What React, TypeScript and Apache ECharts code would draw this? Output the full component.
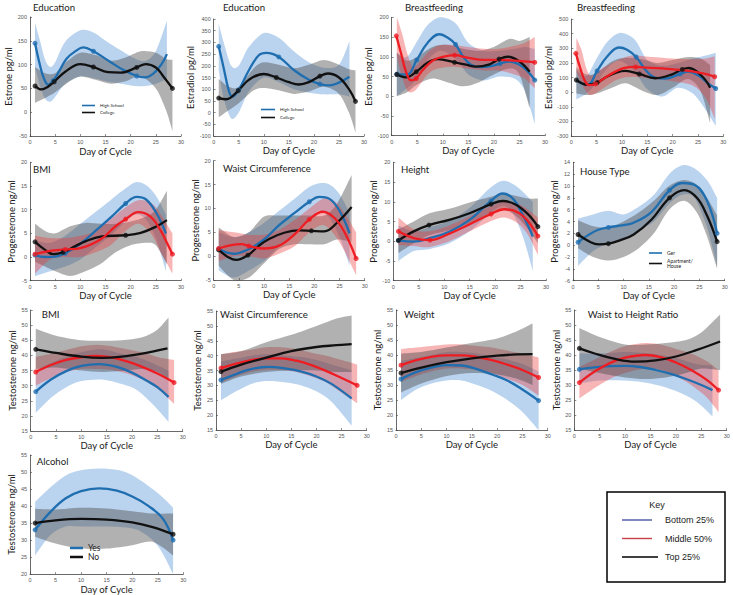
import React, { useEffect, useRef } from 'react';
import * as echarts from 'echarts';

type P = [number, number];
type B = [number, number, number]; // day, low, high

const xName = 'Day of Cycle';
const keyLabels = ['Bottom 25%', 'Middle 50%', 'Top 25%'];
const keyColors = ['#4b55a6', '#c8404c', '#000000'];

// ---------- Panel 1: Education / Estrone ----------
const p1HS: P[] = [[1,145],[2,98],[2.8,70],[3.6,58],[4.6,66],[6,90],[7.3,113],[9,128],[10.6,136],[12.6,128],[15.9,106],[18.5,89],[21.2,76],[22.8,73],[24.5,81],[26.2,102],[27.2,122]];
const p1HSMarks = [1, 4.6, 12.6, 21.2];
const p1HSBand: B[] = [[1,95,188],[2,55,150],[3,28,110],[4,22,95],[5,32,105],[7,60,148],[10,75,172],[12.5,72,168],[15,65,150],[18,60,130],[21,55,112],[23,55,108],[25,60,128],[27.2,70,192]];
const p1Col: P[] = [[1,55],[2.3,48],[3.5,53],[4.8,64],[7,85],[10,101],[12.6,95],[15.5,84],[18,83],[21.2,94],[23,101],[25,94],[26.5,75],[28.3,50]];
const p1ColMarks = [1, 4.8, 12.6, 21.2, 28.3];
const p1ColBand: B[] = [[1,20,95],[3,30,82],[5,42,82],[7.5,62,108],[10,75,125],[13,68,120],[16,60,108],[19,65,115],[22,75,128],[25,50,125],[27,5,112],[28.3,-40,110]];

// ---------- Panel 2: Education / Estradiol ----------
const p2HS: P[] = [[1,283],[2,190],[3,95],[3.7,68],[5,97],[7,180],[9,245],[10.5,255],[13,238],[16,182],[19,140],[21.2,122],[23,116],[25,128],[27.1,153]];
const p2HSMarks = [1, 5, 13, 21.2];
const p2HSBand: B[] = [[1,180,380],[2,60,300],[3.5,-25,200],[5,0,200],[7,90,280],[10,150,340],[13,130,320],[16,100,262],[19,85,215],[22,78,192],[25,78,205],[27.1,68,305]];
const p2Col: P[] = [[1,62],[2.5,57],[4.9,94],[7,140],[10,165],[12.5,150],[15,130],[17,120],[19,130],[21.2,156],[22.8,167],[25,150],[27,100],[28.3,48]];
const p2ColMarks = [1, 4.9, 12.5, 21.2, 28.3];
const p2ColBand: B[] = [[1,-20,145],[3,10,110],[5,40,110],[8,95,190],[10,105,215],[13,95,205],[16,80,190],[19,90,205],[22,110,225],[25,80,205],[27,0,185],[28.3,-85,180]];

// ---------- Panel 3: Breastfeeding / Estrone ----------
const p3Red: P[] = [[0.9,153],[1.8,110],[2.8,62],[3.8,40],[4.8,45],[6,65],[8,90],[10,100],[12.3,104],[15,97],[18,92],[21,92],[24,90],[28,86]];
const p3RedMarks = [0.9, 4.8, 12.3, 28];
const p3RedBand: B[] = [[1,100,200],[2,50,160],[3,15,110],[4,10,75],[5,20,80],[7,55,110],[9,70,128],[12,75,130],[15,70,125],[18,65,120],[21,65,120],[24,55,128],[26,45,135],[28,20,150]];
const p3Blue: P[] = [[1,56],[3,55],[4.9,92],[7,135],[9.3,157],[11,148],[12.5,131],[14,100],[15.5,80],[17.5,74],[20,78],[21.2,83],[23,88],[25,80],[26.5,65],[28,41]];
const p3BlueMarks = [1, 4.9, 12.5, 21.2, 28];
const p3BlueBand: B[] = [[1,0,110],[3,20,100],[5,45,140],[7,90,180],[9.5,115,200],[12.5,95,185],[15,55,135],[18,40,115],[21,50,115],[24,45,120],[26,15,125],[28,-70,120]];
const p3Black: P[] = [[1,55],[2.8,48],[4.8,62],[7,85],[9,94],[12.3,86],[14.5,80],[16.5,75],[19,80],[21,94],[22.7,100],[25,88],[27,62]];
const p3BlackMarks = [1, 4.8, 12.3, 21];
const p3BlackBand: B[] = [[1,0,110],[3,10,90],[5,30,100],[8,45,125],[11,35,130],[14,25,120],[17,35,115],[20,55,125],[23,70,145],[25,55,140],[27,-30,150]];

// ---------- Panel 4: Breastfeeding / Estradiol ----------
const p4Red: P[] = [[0.9,265],[1.8,160],[2.7,75],[3.5,48],[4.8,56],[6.5,95],[8.7,140],[10.5,165],[12.7,172],[15,168],[18,162],[22,150],[26,128],[28.3,105]];
const p4RedMarks = [0.9, 4.8, 12.7, 28.3];
const p4RedBand: B[] = [[1,140,370],[2,60,290],[3,0,160],[4,-20,110],[6,20,160],[9,85,215],[12,105,250],[16,90,240],[20,75,230],[24,45,225],[26.5,-40,230],[28.3,-180,245]];
const p4Blue: P[] = [[1,80],[3.2,50],[5.1,145],[7,240],[9.4,305],[11,290],[12.8,240],[14.7,150],[16.5,100],[18.5,92],[21.5,125],[23,140],[25,115],[27,60],[28.5,25]];
const p4BlueMarks = [5.1, 12.8, 21.5, 28.5];
const p4BlueBand: B[] = [[1,-50,150],[3,-10,110],[5,60,230],[7,160,340],[9.5,215,405],[12.5,140,360],[15,20,220],[18,-30,180],[21,30,200],[24,-10,230],[26.5,-120,250],[28.5,-230,270]];
const p4Black: P[] = [[1,83],[3.2,50],[5.1,65],[7,105],[9,135],[10.7,145],[13.4,124],[16.6,95],[19.9,122],[21.9,155],[23.2,165],[25.9,105],[27.4,30]];
const p4BlackMarks = [1, 5.1, 13.4, 21.9];
const p4BlackBand: B[] = [[1,-10,170],[3,-20,120],[5,-10,130],[8,30,210],[10.7,60,235],[14,10,225],[17,-20,200],[20,30,220],[23,90,240],[25.5,10,230],[27.4,-210,185]];

// ---------- Panel 5: BMI / Progesterone ----------
const p5Blue: P[] = [[1,0.4],[3,0],[5,0.1],[7,0.8],[10,2.8],[13,5.5],[16,8.3],[19,11.3],[21.2,12.7],[23,12.2],[25,9.5],[27,5]];
const p5BlueMarks = [1, 7, 19];
const p5BlueBand: B[] = [[1,-4,3.5],[4,-3,3],[7,-2,4.5],[10,-0.5,7],[13,2,9.5],[16,4.5,12],[19,7.5,14.5],[21,9,15.8],[23,8,15.2],[25,4,13],[27,-3,9]];
const p5Red: P[] = [[1,0.6],[4,1.3],[7,1.6],[10,1.9],[14,3.7],[17,6.5],[19,8],[21.5,9.5],[24,8.5],[26,5.5],[27.2,3],[28.3,0.6]];
const p5RedMarks = [1, 7, 19, 28.3];
const p5RedBand: B[] = [[1,-3.5,4.5],[4,-0.5,4],[7,0,4],[10,0,4.5],[13,1,5.5],[16,2.5,8],[19,5.5,10.5],[21.5,7,12],[24,5,11.5],[26,1,9],[28.3,-3.5,5]];
const p5Black: P[] = [[1,3.2],[3,1.5],[4.6,0.6],[6.6,1],[9,2.3],[11,3.3],[14,4.3],[19,4.6],[22,5.1],[25,6.4],[27.2,7.8]];
const p5BlackMarks = [1, 6.6, 19];
const p5BlackBand: B[] = [[1,-1,7],[3,-2,5.5],[5,-3,5],[8,-4,6.5],[11,-3,7.2],[14,-1.5,7],[17,1,7],[20,2.5,7.5],[23,3,8.5],[25,2.5,10],[27.2,-1.5,14]];

// ---------- Panel 6: Waist Circumference / Progesterone ----------
const p6Blue: P[] = [[1,1.5],[4,0.5],[7,1.5],[10,3.5],[13,6.5],[16,9],[19,11.4],[21,12.4],[23,12],[25,9.5],[27,4.8]];
const p6BlueMarks = [1, 19];
const p6BlueBand: B[] = [[1,-3,5],[4,-4.5,4],[7,-3,5],[10,-1,7],[13,2,9.5],[16,4.5,12],[19,7.5,14.5],[21,9.5,15.3],[23,8,15],[25,4,13],[27,-2,9]];
const p6Red: P[] = [[1,1.6],[3.5,2.3],[5.5,2.5],[7,2.1],[10,1.6],[13,2.2],[16,4.5],[19,7.7],[21.7,9.3],[24,8],[26,5],[28.3,-0.5]];
const p6RedMarks = [1, 7, 19, 28.3];
const p6RedBand: B[] = [[1,-1,5.5],[4,0,5],[7,0,4.5],[10,-0.5,4.5],[13,0.5,5.5],[16,2,7.5],[19,5,10],[21.7,6.5,12],[24,4.5,11.5],[26,1,9],[28.3,-4,5]];
const p6Black: P[] = [[1,1.3],[3,-0.3],[4.5,-0.8],[6.8,0.2],[9,2.2],[11,3.6],[14,4.9],[17,5.4],[19.4,5.3],[22,5.2],[24.5,7],[27.4,10.3]];
const p6BlackMarks = [1, 6.8, 19.4];
const p6BlackBand: B[] = [[1,-2,6],[4,-5,4],[7,-4.5,5],[10,-1.5,8.3],[13,1.5,8.5],[16,2.5,8.5],[19,2.5,8.5],[22,2.5,8.5],[24.5,3.5,11],[27.4,3,17]];

// ---------- Panel 7: Height / Progesterone ----------
const p7Black: P[] = [[1,0.2],[4,2.5],[7,4.1],[11,5.4],[15,7.1],[19.2,9.4],[21.5,10.2],[24,9.3],[26.5,6.8],[28.4,3.7]];
const p7BlackMarks = [1, 7, 19.2, 28.4];
const p7BlackBand: B[] = [[1,-3,3],[4,-0.5,5],[7,1.5,7],[11,2.8,8.2],[15,4.5,9.8],[19,7,11.2],[21.5,8,12],[24,6.5,11.5],[26.5,3,10.8],[28.4,-0.5,10.8]];
const p7Blue: P[] = [[1,0.2],[4,-0.1],[7,0.7],[11,2.4],[15,5.4],[19.2,10.2],[21.5,12.1],[23.5,10.8],[25.5,6.5],[27.4,1.2]];
const p7BlueMarks = [1, 19.2];
const p7BlueBand: B[] = [[1,-5,4],[4,-2.5,2.5],[7,-2,3.5],[11,-0.5,5.2],[15,2.5,8.5],[19,7,13.5],[21.5,9,15.3],[23.5,7,14.5],[25.5,1,12.5],[27.4,-7.5,10]];
const p7Red: P[] = [[1,2.5],[4,0.8],[7.2,0.3],[11,1.9],[15,4.3],[19.2,6.9],[21.8,8.1],[24.5,7.3],[26.5,5],[28.4,1.3]];
const p7RedMarks = [1, 7.2, 19.2, 28.4];
const p7RedBand: B[] = [[1,-1,6],[4,-1.2,3],[7,-1.5,2.5],[11,0,4],[15,2.5,6.3],[19,5,8.8],[21.8,6,10],[24.5,4.5,9.5],[26.5,1.5,8],[28.4,-3.5,6]];

// ---------- Panel 8: House Type / Progesterone ----------
const p8Ger: P[] = [[1,0.5],[3,1.7],[5,2.6],[7,3],[10,3.4],[12,3.8],[15.5,5.6],[19.1,9.3],[21.6,10.5],[24,10.2],[26.5,7.5],[28.5,2]];
const p8GerMarks = [1, 7, 19.1, 28.5];
const p8GerBand: B[] = [[1,-3.5,4.5],[4,-1,5.2],[7,0.3,5.8],[10,1.2,5.2],[13,2.5,6.5],[16,4,8.5],[19,7,12],[21.6,8.5,13.5],[24,8,13],[26.5,3,11],[28.5,-3.5,8]];
const p8Apt: P[] = [[1,1.8],[3.5,0.5],[5.1,0.15],[7,0.25],[9.5,0.9],[12,1.8],[15.5,4.3],[19.1,8],[22,9.3],[24.5,8],[26.5,5],[28.5,0.6]];
const p8AptMarks = [1, 7, 19.1, 28.5];
const p8AptBand: B[] = [[1,-0.5,4.2],[4,-2,3.2],[7,-2.6,3],[10,-2,4],[13,-0.5,5.5],[16,2,7.5],[19,6,10],[22,7.5,11],[24.5,5.5,10.2],[26.5,1.5,8],[28.5,-4,5]];

// ---------- Panel 9: BMI / Testosterone ----------
const p9Black: P[] = [[1,42],[5,40.8],[10,39.6],[14,39.2],[18,39.6],[22,40.6],[27,42.3]];
const p9BlackMarks = [1];
const p9BlackBand: B[] = [[1,35.5,48.8],[5,36,46.5],[10,35,45],[14,34.5,44.8],[18,34.8,45],[22,35.5,46],[25,34.5,48.5],[27.2,32,52.5]];
const p9Red: P[] = [[1,34.5],[4,36.8],[7,38.5],[10,39.4],[13,39.8],[16,39.3],[19,38],[22,36.2],[25,34],[28.3,31]];
const p9RedMarks = [1, 28.3];
const p9RedBand: B[] = [[1,30,39.5],[4,32.5,40.5],[7,34.5,41.8],[10,35.5,43],[13,35.5,43.5],[16,35.2,43],[19,34,42],[22,32,41],[25,29,39.5],[28.3,24,38.5]];
const p9Blue: P[] = [[1,28],[4,32],[7,34.8],[10,36.5],[13.5,37.1],[17,36.2],[20,34.3],[23,31.5],[25,29.5],[27.2,26.3]];
const p9BlueMarks = [1];
const p9BlueBand: B[] = [[1,21,35],[4,26,37.5],[7,29.5,39.5],[10,31.5,41],[14,32,42],[18,30.5,40.5],[21,28.5,39.5],[24,24,37.5],[27.2,18,35]];

// ---------- Panel 10: Waist Circumference / Testosterone ----------
const p10Black: P[] = [[1,34.6],[5,37],[10,39.3],[15,41.5],[20,42.9],[24,43.5],[27,43.9]];
const p10BlackMarks = [1];
const p10BlackBand: B[] = [[1,30.5,40.5],[5,33,41.5],[10,34.5,44.5],[15,35,47],[20,35,50],[24,34.5,52.5],[27,34.5,53.5]];
const p10Red: P[] = [[1,35.8],[4,37.3],[7,38.5],[10,39.1],[13,39.1],[16,38.3],[19,36.8],[22,34.8],[25,32.5],[28.1,30]];
const p10RedMarks = [1, 28.1];
const p10RedBand: B[] = [[1,31,40.5],[4,33,41.3],[7,34.5,42],[10,35.2,42.8],[13,35.2,42.8],[16,34.5,42.2],[19,33,41],[22,31,40],[25,27.5,38.5],[28.1,24,37]];
const p10Blue: P[] = [[1,31.8],[4,33.8],[7,35.5],[10.5,36.2],[14,35.6],[17,34.6],[20,33],[23,30.5],[27,25.6]];
const p10BlueMarks = [1];
const p10BlueBand: B[] = [[1,25,38],[4,28,39],[7,30.5,40],[10,31.5,40.5],[14,31,40],[17,30,39.5],[20,28,38.5],[23,24.5,37],[27,16.5,35]];

// ---------- Panel 11: Weight / Testosterone ----------
const p11Red: P[] = [[1,36.6],[4,38.3],[7,39.4],[10,39.9],[13,39.9],[16,39.3],[19,38.3],[22,36.8],[25,35],[28.2,32.5]];
const p11RedMarks = [1, 28.2];
const p11RedBand: B[] = [[1,31,42],[4,33,42.5],[7,34.5,43],[10,35.5,43.5],[13,35.5,43.5],[16,35,43],[19,34,42.5],[22,32,41.5],[25,30,40.5],[28.2,26.5,39.2]];
const p11Black: P[] = [[1,34],[5,35.8],[10,37.6],[15,38.9],[20,39.8],[24,40.2],[27,40.3]];
const p11BlackMarks = [1];
const p11BlackBand: B[] = [[1,27.5,40.5],[5,30.5,41],[10,33,42.5],[15,34,44],[20,33.5,45.5],[24,32,48],[27,30,50.5]];
const p11Blue: P[] = [[1,32],[4,34.3],[7,35.8],[10,36.6],[13,36.5],[16,35.3],[19,33.5],[22,31.5],[25,28.5],[28.2,24.8]];
const p11BlueMarks = [1, 28.2];
const p11BlueBand: B[] = [[1,25,38],[4,28.5,39],[7,30.5,40],[10,31.5,41],[13,31.5,41],[16,30,40.5],[19,28,39.5],[22,25,38.5],[25,21,37],[28.2,15,34.5]];

// ---------- Panel 12: Waist to Height Ratio / Testosterone ----------
const p12Black: P[] = [[1,42.2],[4,40.5],[8,38.7],[12,37.8],[16,38.2],[20,39.5],[24,41.6],[28.7,44.5]];
const p12BlackMarks = [1];
const p12BlackBand: B[] = [[1,35.5,49],[5,34,46],[10,32.5,43.5],[14,32,43.5],[18,32.5,44],[22,34,45],[25,35.5,47.5],[28.7,35,53.5]];
const p12Red: P[] = [[1,30.8],[4,34.5],[7,37.3],[10,39.1],[14,40],[17,39.3],[20,37.5],[23,35],[26,31.8],[28.4,28.3]];
const p12RedMarks = [1, 28.4];
const p12RedBand: B[] = [[1,25.5,36],[4,29,38.5],[7,32,41],[10,34,43],[14,35.5,44],[17,35,43.5],[20,33,42],[23,30,40.5],[26,26,38],[28.4,21,35]];
const p12Blue: P[] = [[1,35.2],[4,35.9],[7,36.3],[10,36.4],[13,36],[16,35],[19,33.7],[22,32],[25,30],[27.2,28.3]];
const p12BlueMarks = [1];
const p12BlueBand: B[] = [[1,30.5,40.5],[5,31.5,40.5],[10,31.5,41],[15,30.5,40.5],[20,28,39],[24,24.5,37],[27.2,19.5,36.5]];

// ---------- Panel 13: Alcohol / Testosterone ----------
const p13Yes: P[] = [[1,33],[4,38.3],[7,42.3],[10,44.4],[13.5,45.2],[17,44.5],[20,42.8],[23,40.2],[26,36.3],[28,30]];
const p13YesMarks = [1, 28];
const p13YesBand: B[] = [[1,25.5,41.2],[4,31.5,45.5],[7,34,49],[10,34,50.5],[14,34,51],[18,33.8,50.3],[21,33,48.2],[24,30,45],[26,26,42.5],[28,20,39.5]];
const p13No: P[] = [[1,35],[5,35.8],[10,36.2],[15,36],[20,35.2],[24,33.8],[28,31.7]];
const p13NoMarks = [1, 28];
const p13NoBand: B[] = [[1,31,39.2],[5,29,39],[10,27.5,39.5],[15,27.5,39.3],[20,28.5,38.5],[24,29.5,37.8],[28,25.5,37.8]];

// ---------- band shape (smooth upper + lower edges) ----------
function curveThrough(ctx: any, pts: number[][]) {
  const t = 0.9;
  for (let i = 0; i < pts.length - 1; i++) {
    const p0 = pts[i - 1] || pts[i];
    const p1 = pts[i];
    const p2 = pts[i + 1];
    const p3 = pts[i + 2] || p2;
    const c1x = p1[0] + ((p2[0] - p0[0]) / 6) * t;
    const c1y = p1[1] + ((p2[1] - p0[1]) / 6) * t;
    const c2x = p2[0] - ((p3[0] - p1[0]) / 6) * t;
    const c2y = p2[1] - ((p3[1] - p1[1]) / 6) * t;
    ctx.bezierCurveTo(c1x, c1y, c2x, c2y, p2[0], p2[1]);
  }
}
const BandShape = (echarts.graphic as any).extendShape({
  type: 'bandArea',
  shape: { upper: [], lower: [] },
  buildPath(ctx: any, shape: any) {
    const up: number[][] = shape.upper;
    const lo: number[][] = shape.lower;
    if (!up || !up.length) return;
    ctx.moveTo(up[0][0], up[0][1]);
    curveThrough(ctx, up);
    const rlo = lo.slice().reverse();
    ctx.lineTo(rlo[0][0], rlo[0][1]);
    curveThrough(ctx, rlo);
    ctx.closePath();
  },
});
(echarts.graphic as any).registerShape('bandArea', BandShape);

// ---------- layout & styling ----------
const COLORS: Record<string, { line: string; band: string }> = {
  blue: { line: '#1f6eb0', band: 'rgba(90,150,215,0.42)' },
  red: { line: '#ee1c23', band: 'rgba(235,60,60,0.38)' },
  black: { line: '#111111', band: 'rgba(70,70,70,0.42)' },
};
const FONT = 'Lato';

type G = { c: string; name?: string; line: P[]; marks: number[]; band: B[] };
type Panel = { title: string; t: [number, number]; yName: string; y: [number, number, number]; g: [number, number, number, number]; yGap: number; xGap: number; groups: G[] };

const panels: Panel[] = [
  { title: 'Education', t: [33, 2], yName: 'Estrone pg/ml', y: [-50, 200, 50], g: [30, 17, 151, 119], yGap: 14, xGap: 10,
    groups: [{ c: 'blue', name: 'High School', line: p1HS, marks: p1HSMarks, band: p1HSBand }, { c: 'black', name: 'College', line: p1Col, marks: p1ColMarks, band: p1ColBand }] },
  { title: 'Education', t: [223, 2], yName: 'Estradiol pg/ml', y: [-100, 400, 50], g: [213.7, 19, 150.3, 117], yGap: 17, xGap: 5.7,
    groups: [{ c: 'blue', name: 'High School', line: p2HS, marks: p2HSMarks, band: p2HSBand }, { c: 'black', name: 'College', line: p2Col, marks: p2ColMarks, band: p2ColBand }] },
  { title: 'Breastfeeding', t: [405, 2], yName: 'Estrone pg/ml', y: [-100, 200, 50], g: [391.7, 17.3, 153.3, 118.4], yGap: 11, xGap: 8,
    groups: [{ c: 'blue', line: p3Blue, marks: p3BlueMarks, band: p3BlueBand }, { c: 'black', line: p3Black, marks: p3BlackMarks, band: p3BlackBand }, { c: 'red', line: p3Red, marks: p3RedMarks, band: p3RedBand }] },
  { title: 'Breastfeeding', t: [577, 2], yName: 'Estradiol pg/ml', y: [-300, 500, 100], g: [571.3, 19, 152, 117], yGap: 10.5, xGap: 7.7,
    groups: [{ c: 'blue', line: p4Blue, marks: p4BlueMarks, band: p4BlueBand }, { c: 'black', line: p4Black, marks: p4BlackMarks, band: p4BlackBand }, { c: 'red', line: p4Red, marks: p4RedMarks, band: p4RedBand }] },
  { title: 'BMI', t: [33, 164], yName: 'Progesterone ng/ml', y: [-5, 20, 5], g: [30, 162.3, 151, 118.4], yGap: 13, xGap: 6.3,
    groups: [{ c: 'blue', line: p5Blue, marks: p5BlueMarks, band: p5BlueBand }, { c: 'black', line: p5Black, marks: p5BlackMarks, band: p5BlackBand }, { c: 'red', line: p5Red, marks: p5RedMarks, band: p5RedBand }] },
  { title: 'Waist Circumference', t: [223, 163.5], yName: 'Progesterone ng/ml', y: [-5, 20, 5], g: [213.7, 160.7, 151, 119.3], yGap: 12.5, xGap: 6,
    groups: [{ c: 'blue', line: p6Blue, marks: p6BlueMarks, band: p6BlueBand }, { c: 'black', line: p6Black, marks: p6BlackMarks, band: p6BlackBand }, { c: 'red', line: p6Red, marks: p6RedMarks, band: p6RedBand }] },
  { title: 'Height', t: [401, 164], yName: 'Progesterone ng/ml', y: [-10, 20, 5], g: [393.3, 162.3, 152.7, 118.4], yGap: 13, xGap: 6,
    groups: [{ c: 'blue', line: p7Blue, marks: p7BlueMarks, band: p7BlueBand }, { c: 'black', line: p7Black, marks: p7BlackMarks, band: p7BlackBand }, { c: 'red', line: p7Red, marks: p7RedMarks, band: p7RedBand }] },
  { title: 'House Type', t: [580, 166], yName: 'Progesterone ng/ml', y: [-6, 14, 2], g: [573, 162.3, 151.7, 118.4], yGap: 11.5, xGap: 6,
    groups: [{ c: 'blue', name: 'Ger', line: p8Ger, marks: p8GerMarks, band: p8GerBand }, { c: 'black', name: 'Apartment/\nHouse', line: p8Apt, marks: p8AptMarks, band: p8AptBand }] },
  { title: 'BMI', t: [41.7, 309.5], yName: 'Testosterone ng/ml', y: [15, 55, 5], g: [30.7, 310, 152, 121], yGap: 9.7, xGap: 4.5,
    groups: [{ c: 'blue', line: p9Blue, marks: p9BlueMarks, band: p9BlueBand }, { c: 'red', line: p9Red, marks: p9RedMarks, band: p9RedBand }, { c: 'black', line: p9Black, marks: p9BlackMarks, band: p9BlackBand }] },
  { title: 'Waist Circumference', t: [220, 309.5], yName: 'Testosterone ng/ml', y: [15, 55, 5], g: [216, 311, 150.7, 119], yGap: 11, xGap: 6,
    groups: [{ c: 'blue', line: p10Blue, marks: p10BlueMarks, band: p10BlueBand }, { c: 'red', line: p10Red, marks: p10RedMarks, band: p10RedBand }, { c: 'black', line: p10Black, marks: p10BlackMarks, band: p10BlackBand }] },
  { title: 'Weight', t: [404, 309], yName: 'Testosterone ng/ml', y: [15, 55, 5], g: [396, 310, 151.7, 120], yGap: 10, xGap: 6,
    groups: [{ c: 'blue', line: p11Blue, marks: p11BlueMarks, band: p11BlueBand }, { c: 'red', line: p11Red, marks: p11RedMarks, band: p11RedBand }, { c: 'black', line: p11Black, marks: p11BlackMarks, band: p11BlackBand }] },
  { title: 'Waist to Height Ratio', t: [587.7, 309], yName: 'Testosterone ng/ml', y: [15, 55, 5], g: [574.3, 310, 152.4, 120], yGap: 9.3, xGap: 6,
    groups: [{ c: 'blue', line: p12Blue, marks: p12BlueMarks, band: p12BlueBand }, { c: 'red', line: p12Red, marks: p12RedMarks, band: p12RedBand }, { c: 'black', line: p12Black, marks: p12BlackMarks, band: p12BlackBand }] },
  { title: 'Alcohol', t: [36.7, 456.5], yName: 'Testosterone ng/ml', y: [20, 55, 5], g: [30, 455, 153.3, 121], yGap: 9.3, xGap: 6.5,
    groups: [{ c: 'blue', name: 'Yes', line: p13Yes, marks: p13YesMarks, band: p13YesBand }, { c: 'black', name: 'No', line: p13No, marks: p13NoMarks, band: p13NoBand }] },
];

const axisCommon = {
  axisLine: { show: true, onZero: false, lineStyle: { color: '#444', width: 0.8 } },
  axisTick: { show: true, inside: true, length: 2, lineStyle: { color: '#444', width: 0.6 } },
  axisLabel: { fontSize: 5.5, color: '#555', margin: 3, fontFamily: 'Liberation Sans' },
  splitLine: { show: false },
};
const nameStyle = { fontSize: 9.5, color: '#1a1a1a', fontFamily: FONT };

function bandSeries(i: number, band: B[], fill: string) {
  return {
    type: 'custom', xAxisIndex: i, yAxisIndex: i, silent: true, z: 1,
    encode: { x: 0, y: [1, 2] },
    data: band,
    renderItem: (params: any, api: any) => {
      if (params.dataIndex !== 0) return null;
      const upper = band.map((b) => api.coord([b[0], b[2]]));
      const lower = band.map((b) => api.coord([b[0], b[1]]));
      return {
        type: 'bandArea',
        shape: { upper, lower },
        style: { fill, stroke: 'none' },
      };
    },
  };
}

function buildOption() {
  const grid: any[] = [];
  const xAxis: any[] = [];
  const yAxis: any[] = [];
  const series: any[] = [];
  const title: any[] = [];
  panels.forEach((p, i) => {
    grid.push({ left: p.g[0], top: p.g[1], width: p.g[2], height: p.g[3] });
    xAxis.push({ gridIndex: i, type: 'value', min: 0, max: 30, interval: 5, name: xName, nameLocation: 'middle', nameGap: p.xGap, nameTextStyle: nameStyle, ...axisCommon });
    yAxis.push({ gridIndex: i, type: 'value', min: p.y[0], max: p.y[1], interval: p.y[2], name: p.yName, nameLocation: 'middle', nameGap: p.yGap, nameTextStyle: nameStyle, ...axisCommon });
    title.push({ text: p.title, left: p.t[0], top: p.t[1], padding: 0, textStyle: { fontSize: 9.6, fontWeight: 'normal', fontFamily: FONT, color: '#1a1a1a' } });
    p.groups.forEach((g) => {
      series.push(bandSeries(i, g.band, COLORS[g.c].band));
    });
    p.groups.forEach((g, j) => {
      const col = COLORS[g.c];
      series.push({
        type: 'line', name: g.name ?? `p${i}-${g.c}`, xAxisIndex: i, yAxisIndex: i, smooth: 0.4, symbol: 'none', z: 3 + j,
        color: col.line, lineStyle: { color: col.line, width: 2.3 }, data: g.line,
      });
      series.push({
        type: 'scatter', xAxisIndex: i, yAxisIndex: i, symbolSize: 5, z: 8 + j, silent: true,
        itemStyle: { color: col.line }, data: g.line.filter((pt) => g.marks.includes(pt[0])),
      });
    });
  });

  const smallLegend = (data: string[], left: number, top: number, fs: number, w: number, gap: number, lh?: number) => ({
    data, left, top, orient: 'vertical', icon: 'rect', itemWidth: w, itemHeight: fs > 6 ? 2.5 : 1.6, itemGap: gap, padding: 0,
    selectedMode: false, textStyle: { fontSize: fs, color: '#222', fontFamily: FONT, lineHeight: lh },
  });

  const keyX = 607, keyY = 492, keyW = 118, keyH = 90;
  const graphic: any[] = [
    { type: 'rect', shape: { x: keyX, y: keyY, width: keyW, height: keyH }, style: { fill: '#fff', stroke: '#000', lineWidth: 1.5 }, z: 10 },
    { type: 'text', x: 657, y: 505, style: { text: 'Key', fontSize: 9, fill: '#222', align: 'center', verticalAlign: 'middle', fontFamily: 'Liberation Sans' }, z: 11 },
  ];
  keyLabels.forEach((lab, k) => {
    const yy = 520 + k * 18.5;
    graphic.push({ type: 'line', shape: { x1: 622, y1: yy, x2: k === 2 ? 658 : 652, y2: yy }, style: { stroke: keyColors[k], lineWidth: 1.4 }, z: 11 });
    graphic.push({ type: 'text', x: 665, y: yy, style: { text: lab, fontSize: 9, fill: '#222', verticalAlign: 'middle', fontFamily: 'Liberation Sans' }, z: 11 });
  });

  return {
    animation: false,
    backgroundColor: '#fff',
    title,
    grid,
    xAxis,
    yAxis,
    series,
    legend: [
      smallLegend(['High School', 'College'], 82, 103, 4.5, 13, 2),
      smallLegend(['High School', 'College'], 261, 107, 4.5, 14, 3),
      smallLegend(['Ger', 'Apartment/\nHouse'], 649, 250.5, 5, 13, 3),
      smallLegend(['Yes', 'No'], 70, 543.5, 8.5, 13, 0, 8),
    ],
    graphic,
  };
}

export default function App() {
  const ref = useRef<HTMLDivElement>(null);
  useEffect(() => {
    document.body.style.margin = '0';
    const chart = echarts.init(ref.current!, null, { renderer: 'svg' });
    chart.setOption(buildOption());
    return () => chart.dispose();
  }, []);
  return <div ref={ref} style={{ width: 733, height: 595 }} />;
}
